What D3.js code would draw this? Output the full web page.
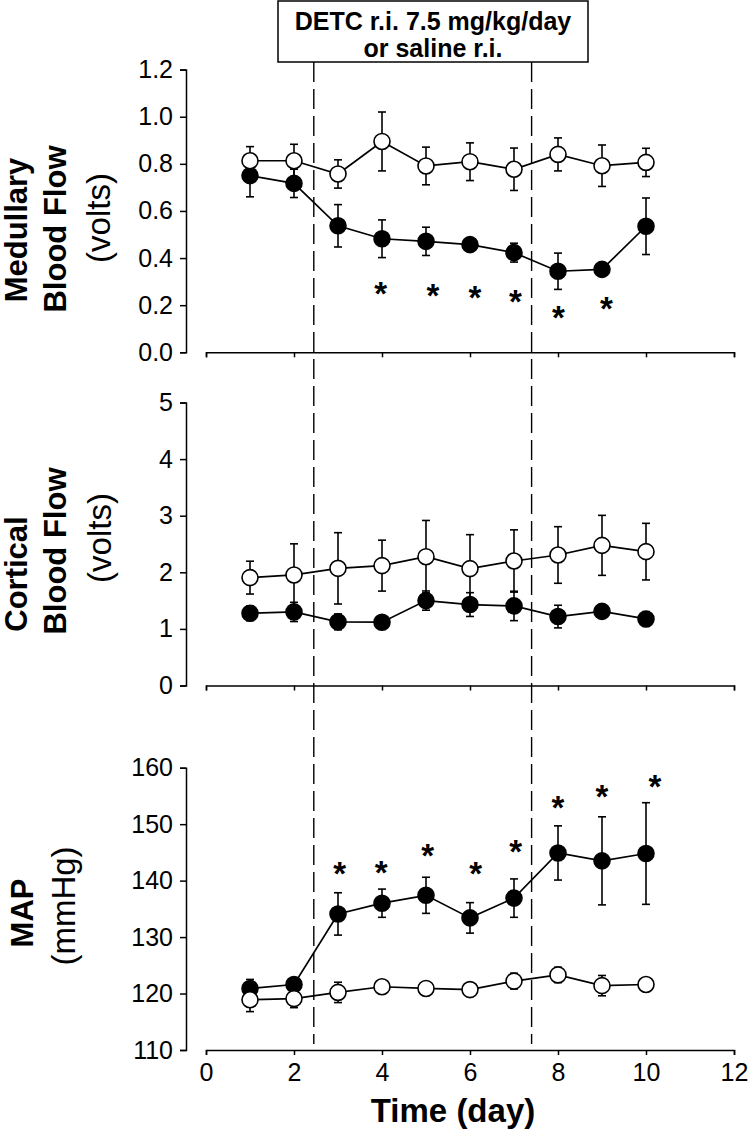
<!DOCTYPE html>
<html><head><meta charset="utf-8">
<script src="https://cdn.jsdelivr.net/npm/d3@7"></script>
<style>body{margin:0;background:#fff}svg{display:block}text{font-family:"Liberation Sans",Arial,sans-serif;fill:#000}</style>
</head><body>
<script>
const days = [1,2,3,4,5,6,7,8,9,10];
const xTicks = [0,2,4,6,8,10,12];
const treatmentLines = [2.45, 7.4];
const boxText = ["DETC r.i. 7.5 mg/kg/day", "or saline r.i."];

// Medullary blood flow (volts)
const medDETC   = [0.75,0.717,0.537,0.482,0.471,0.457,0.423,0.344,0.352,0.535];
const medDETCse = [0.09,0.06,0.09,0.08,0.06,0.025,0.04,0.077,0.02,0.12];
const medSal    = [0.813,0.813,0.757,0.895,0.791,0.809,0.777,0.84,0.792,0.806];
const medSalse  = [0.06,0.07,0.06,0.125,0.08,0.08,0.09,0.07,0.088,0.06];
const medTicks  = [0,0.2,0.4,0.6,0.8,1.0,1.2];
const medStars  = [[3.97,0.279],[5.16,0.272],[6.11,0.264],[7.03,0.248],[8.01,0.177],[9.1,0.215]];

// Cortical blood flow (volts)
const cortDETC   = [1.276,1.3,1.124,1.118,1.5,1.43,1.406,1.218,1.31,1.176];
const cortDETCse = [0.13,0.17,0.14,0.06,0.17,0.21,0.26,0.2,0.11,0.13];
const cortSal    = [1.906,1.953,2.07,2.118,2.276,2.065,2.2,2.306,2.476,2.365];
const cortSalse  = [0.29,0.55,0.63,0.45,0.64,0.6,0.55,0.5,0.53,0.5];
const cortTicks  = [0,1,2,3,4,5];

// MAP (mmHg)
const mapDETC   = [120.9,121.6,134.1,136.0,137.4,133.4,136.9,144.9,143.5,144.8];
const mapDETCse = [1.6,1.2,3.75,2.5,3.2,2.7,3.4,4.8,7.8,9.0];
const mapSal    = [118.9,119.1,120.2,121.2,120.9,120.7,122.2,123.3,121.4,121.6];
const mapSalse  = [2.1,1.6,1.8,0.6,0.5,0.5,1.4,1.35,1.8,0.4];
const mapTicks  = [110,120,130,140,150,160];
const mapStars  = [[3.04,142.5],[3.98,142.8],[5.04,145.7],[6.13,142.5],[7.04,146.5],[8.0,154.3],[9.0,156.2],[10.2,158.0]];

const W = 750, H = 1135;
const svg = d3.select("body").append("svg").attr("width", W).attr("height", H);
const x = d3.scaleLinear().domain([0,12]).range([206,734]);
const yAxisX = 186;

const panels = [
  {domain:[0,1.2], range:[352.3,69.6], ticks:medTicks, fmt:d3.format(".1f"),
   detc:medDETC, detcSe:medDETCse, sal:medSal, salSe:medSalse, stars:medStars,
   labels:[{t:"Medullary",b:true,x:16,y:230},{t:"Blood Flow",b:true,x:55,y:229},{t:"(volts)",b:false,x:98,y:218}]},
  {domain:[0,5], range:[685.5,402.5], ticks:cortTicks, fmt:d3.format("d"),
   detc:cortDETC, detcSe:cortDETCse, sal:cortSal, salSe:cortSalse, stars:[],
   labels:[{t:"Cortical",b:true,x:16,y:574},{t:"Blood Flow",b:true,x:55,y:551},{t:"(volts)",b:false,x:99,y:538}]},
  {domain:[110,160], range:[1050,767.7], ticks:mapTicks, fmt:d3.format("d"),
   detc:mapDETC, detcSe:mapDETCse, sal:mapSal, salSe:mapSalse, stars:mapStars, xlabels:true,
   labels:[{t:"MAP",b:true,x:22,y:913},{t:"(mmHg)",b:false,x:63,y:906}]}
];

// treatment box + dashed lines
svg.append("rect").attr("x",278).attr("y",1).attr("width",310).attr("height",61)
  .attr("fill","#fff").attr("stroke","#000").attr("stroke-width",1.5);
boxText.forEach((t,i)=>svg.append("text").attr("x",433).attr("y",30+i*26.5)
  .attr("text-anchor","middle").attr("font-size",25).attr("font-weight","bold").text(t));
svg.selectAll("line.treat").data(treatmentLines).join("line").attr("class","treat")
  .attr("x1",d=>x(d)).attr("x2",d=>x(d)).attr("y1",62).attr("y2",1044)
  .attr("stroke","#000").attr("stroke-width",1.4).attr("stroke-dasharray","20,7");

panels.forEach(p=>{
  const y = d3.scaleLinear().domain(p.domain).range(p.range);
  const g = svg.append("g");
  const ya = g.append("g").attr("transform",`translate(${yAxisX},0)`)
    .call(d3.axisLeft(y).tickValues(p.ticks).tickFormat(p.fmt).tickSize(6).tickPadding(7));
  ya.selectAll("text").attr("font-size",25).attr("font-family","Liberation Sans, Arial, sans-serif");
  const xa = g.append("g").attr("transform",`translate(0,${p.range[0]})`)
    .call(d3.axisBottom(x).tickValues(xTicks).tickSize(5).tickPadding(8).tickFormat(p.xlabels? d3.format("d") : ""));
  xa.selectAll("text").attr("font-size",25).attr("font-family","Liberation Sans, Arial, sans-serif");
  g.selectAll(".domain, .tick line").attr("stroke","#000").attr("stroke-width",1.5);
  p.labels.forEach(l=>{
    g.append("text").attr("transform",`translate(${l.x},${l.y}) rotate(-90)`)
      .attr("text-anchor","middle").attr("dominant-baseline","central")
      .attr("font-size", l.b?31:33).attr("font-weight", l.b?"bold":"normal").text(l.t);
  });
  const series = [
    {v:p.detc, se:p.detcSe, fill:"#000"},
    {v:p.sal, se:p.salSe, fill:"#fff"}
  ];
  series.forEach(s=>{
    const pts = days.map((d,i)=>({d, v:s.v[i], se:s.se[i]}));
    const eg = g.append("g");
    eg.selectAll("line.eb").data(pts).join("line").attr("x1",d=>x(d.d)).attr("x2",d=>x(d.d))
      .attr("y1",d=>y(d.v-d.se)).attr("y2",d=>y(d.v+d.se)).attr("stroke","#000").attr("stroke-width",1.6);
    [-1,1].forEach(sg=>{
      eg.selectAll("line.cap"+sg).data(pts).join("line")
        .attr("x1",d=>x(d.d)-4).attr("x2",d=>x(d.d)+4)
        .attr("y1",d=>y(d.v+sg*d.se)).attr("y2",d=>y(d.v+sg*d.se)).attr("stroke","#000").attr("stroke-width",1.6);
    });
    g.append("path").datum(pts).attr("fill","none").attr("stroke","#000").attr("stroke-width",1.7)
      .attr("d", d3.line().x(d=>x(d.d)).y(d=>y(d.v)));
    g.selectAll(null).data(pts).join("circle").attr("cx",d=>x(d.d)).attr("cy",d=>y(d.v)).attr("r",8)
      .attr("fill",s.fill).attr("stroke","#000").attr("stroke-width",1.6);
  });
  g.selectAll(null).data(p.stars).join("text").attr("x",d=>x(d[0])).attr("y",d=>y(d[1])+0.57*33)
    .attr("text-anchor","middle").attr("font-size",33).attr("font-weight","bold").text("*");
});
svg.append("text").attr("x",453).attr("y",1122).attr("text-anchor","middle")
  .attr("font-size",33).attr("font-weight","bold").text("Time (day)");
</script>
</body></html>
